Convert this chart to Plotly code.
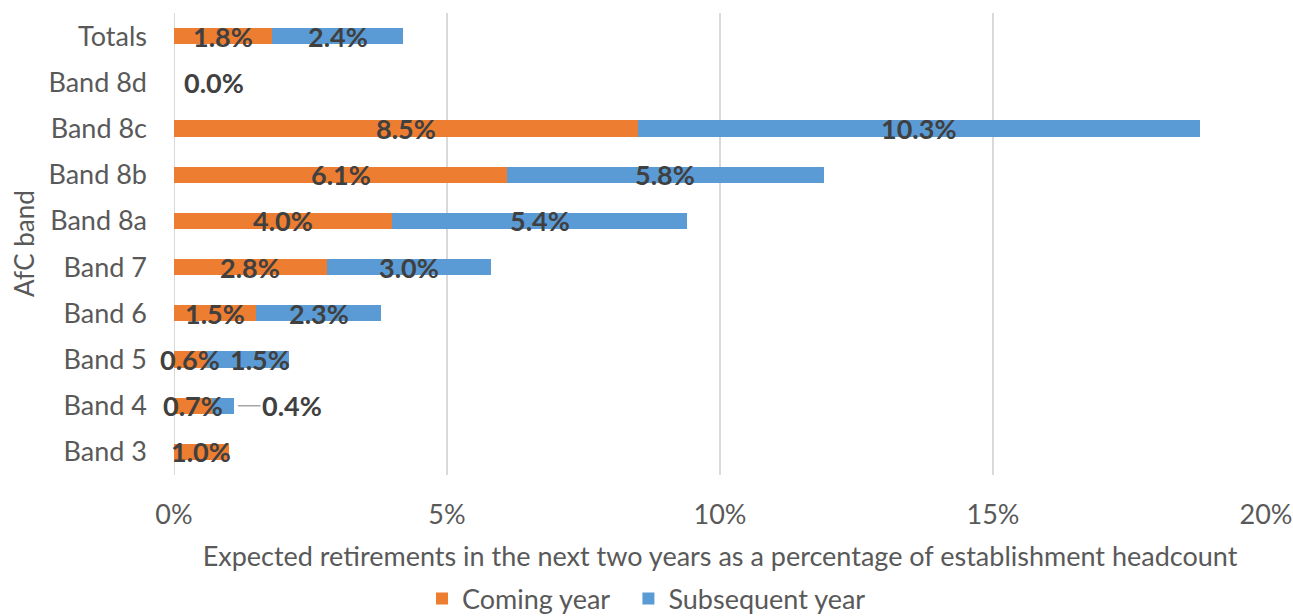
import plotly.graph_objects as go

bands = ["Band 3", "Band 4", "Band 5", "Band 6", "Band 7",
         "Band 8a", "Band 8b", "Band 8c", "Band 8d", "Totals"]
coming_year = [1.0, 0.7, 0.6, 1.5, 2.8, 4.0, 6.1, 8.5, 0.0, 1.8]
subsequent_year = [0.0, 0.4, 1.5, 2.3, 3.0, 5.4, 5.8, 10.3, 0.0, 2.4]
x_ticks = [0, 5, 10, 15, 20]
x_tick_text = ["0%", "5%", "10%", "15%", "20%"]

ORANGE = "#ED7D31"
BLUE = "#5B9BD5"
TEXT = "#595959"
LABEL = "#404040"
FONT = "Lato"
SIZE = 27

fig = go.Figure()
# trailing non-breaking spaces widen the gap between the two legend entries
fig.add_trace(go.Bar(y=bands, x=coming_year, orientation="h", name="Coming year\u00a0\u00a0",
                     marker=dict(color=ORANGE, line=dict(width=0))))
fig.add_trace(go.Bar(y=bands, x=subsequent_year, orientation="h", name="Subsequent year",
                     marker=dict(color=BLUE, line=dict(width=0))))

# small horizontal nudges (px) for labels that would otherwise collide
label_nudge = {("Band 5", "s"): 12}

annotations = []
label_font = dict(family=FONT, size=SIZE, color=LABEL)
for band, c, s in zip(bands, coming_year, subsequent_year):
    # coming-year label, centred in its segment
    if c > 0:
        annotations.append(dict(x=c / 2, y=band, text=f"<b>{c:.1f}%</b>", showarrow=False,
                                font=label_font, xanchor="center", yanchor="middle",
                                xshift=label_nudge.get((band, "c"), 0)))
    elif band == "Band 8d":
        annotations.append(dict(x=0, y=band, text=f"<b>{c:.1f}%</b>", showarrow=False,
                                font=label_font, xanchor="left", yanchor="middle", xshift=8))
    # subsequent-year label; very short segments get a leader line
    if s > 0:
        if s < 0.5:
            annotations.append(dict(x=c + s, y=band, text=f"<b>{s:.1f}%</b>", showarrow=True,
                                    arrowhead=0, arrowwidth=1.5, arrowcolor="#A6A6A6",
                                    ax=58, ay=0, standoff=4, font=label_font,
                                    xanchor="center", yanchor="middle"))
        else:
            annotations.append(dict(x=c + s / 2, y=band, text=f"<b>{s:.1f}%</b>", showarrow=False,
                                    font=label_font, xanchor="center", yanchor="middle",
                                    xshift=label_nudge.get((band, "s"), 0)))

# rotated y-axis title
annotations.append(dict(x=-150 / 1092, y=0.5, xref="paper", yref="paper", text="AfC band",
                        showarrow=False, textangle=-90, xanchor="center", yanchor="middle",
                        font=dict(family=FONT, size=26, color=TEXT)))

fig.update_layout(
    width=1293, height=616,
    margin=dict(l=174, r=27, t=13, b=141, autoexpand=False),
    barmode="stack", bargap=0.65,
    plot_bgcolor="white", paper_bgcolor="white",
    font=dict(family=FONT, color=TEXT, size=SIZE),
    showlegend=True,
    legend=dict(orientation="h", x=0.5, xanchor="center", xref="container",
                y=17 / 616, yanchor="middle", yref="container",
                font=dict(family=FONT, size=SIZE, color=TEXT), traceorder="normal",
                itemsizing="constant"),
    annotations=annotations,
    xaxis=dict(range=[0, 20], tickvals=x_ticks, ticktext=x_tick_text, automargin=False,
               showgrid=True, gridcolor="#D9D9D9", gridwidth=2, zeroline=False,
               showline=False, ticks="", ticklabelstandoff=21,
               tickfont=dict(family=FONT, size=SIZE, color=TEXT),
               title=dict(text="Expected retirements in the next two years as a percentage of establishment headcount",
                          font=dict(family=FONT, size=SIZE, color=TEXT), standoff=18)),
    yaxis=dict(categoryorder="array", categoryarray=bands, range=[-0.5, 9.5],
               automargin=False,
               showgrid=False, zeroline=False, showline=False, ticks="",
               ticklabelstandoff=26, tickfont=dict(family=FONT, size=SIZE, color=TEXT)),
)
fig.add_shape(type="line", xref="x", yref="paper", x0=0, x1=0, y0=0, y1=1,
              line=dict(color="#D9D9D9", width=2), layer="below")

fig.write_html("out.html")
